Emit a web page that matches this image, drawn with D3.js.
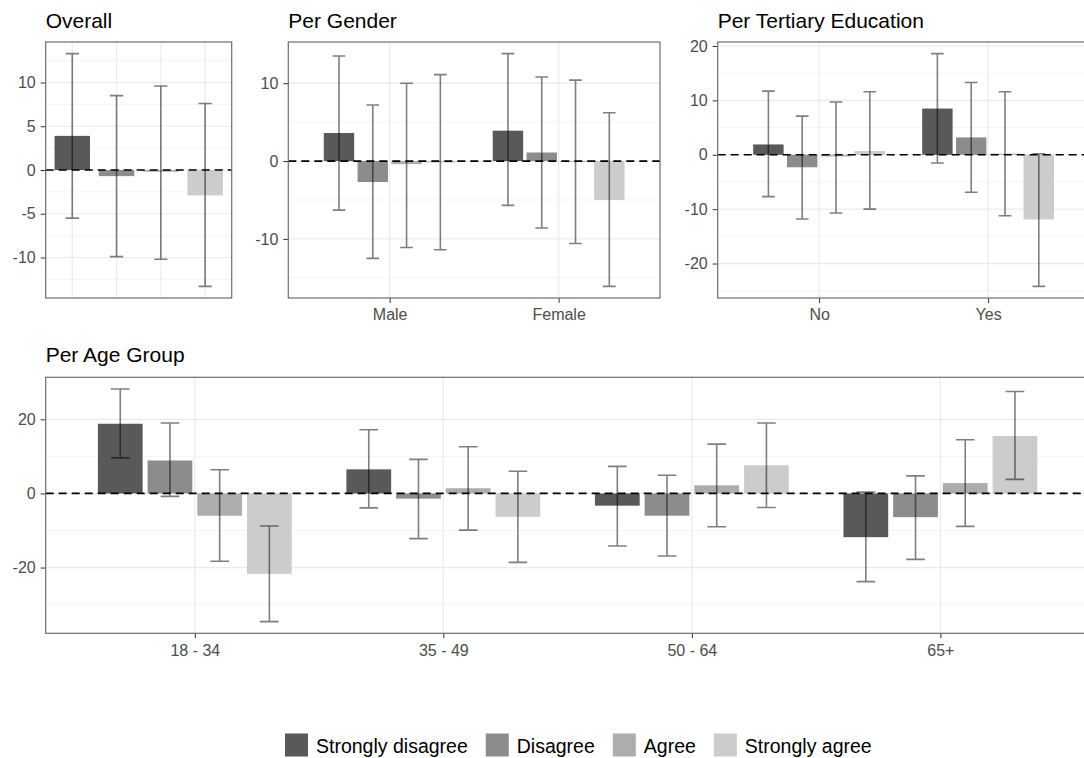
<!DOCTYPE html>
<html>
<head>
<meta charset="utf-8">
<script src="https://cdn.jsdelivr.net/npm/d3@7"></script>
<style>
  html, body { margin: 0; padding: 0; background: #fff; }
  svg { display: block; font-family: "Liberation Sans", Arial, Helvetica, sans-serif; }
</style>
</head>
<body>
<svg id="chart" width="1084" height="758"></svg>
<script>
// Response categories and their grey fills
const responses = ["Strongly disagree", "Disagree", "Agree", "Strongly agree"];
const fills = ["#595959", "#8c8c8c", "#adadad", "#cccccc"];

// Overall: estimate with 95% interval per response
const overallEst = [3.9, -0.7, -0.2, -2.9];
const overallLo  = [-5.5, -9.9, -10.2, -13.3];
const overallHi  = [13.3, 8.5, 9.6, 7.6];
const overallTicks = [-10, -5, 0, 5, 10];

// Per gender (rows follow genderGroups, columns follow responses)
const genderGroups = ["Male", "Female"];
const genderEst = [[3.6, -2.7, -0.4, -0.2], [3.9, 1.1, -0.1, -5.0]];
const genderLo  = [[-6.3, -12.5, -11.1, -11.4], [-5.7, -8.6, -10.6, -16.1]];
const genderHi  = [[13.5, 7.2, 10.0, 11.1], [13.8, 10.8, 10.4, 6.2]];
const genderTicks = [-10, 0, 10];

// Per tertiary education
const eduGroups = ["No", "Yes"];
const eduEst = [[1.9, -2.3, -0.3, 0.7], [8.5, 3.2, 0.2, -11.9]];
const eduLo  = [[-7.7, -11.8, -10.7, -10.0], [-1.5, -6.9, -11.2, -24.2]];
const eduHi  = [[11.7, 7.1, 9.7, 11.6], [18.6, 13.3, 11.6, 0.2]];
const eduTicks = [-20, -10, 0, 10, 20];

// Per age group
const ageGroups = ["18 - 34", "35 - 49", "50 - 64", "65+"];
const ageEst = [[18.8, 8.9, -6.0, -21.7], [6.5, -1.4, 1.4, -6.3], [-3.3, -6.0, 2.2, 7.6], [-11.8, -6.4, 2.8, 15.5]];
const ageLo  = [[9.6, -0.8, -18.3, -34.6], [-3.9, -12.2, -9.9, -18.6], [-14.2, -16.9, -9.0, -3.8], [-23.8, -17.8, -8.9, 3.8]];
const ageHi  = [[28.2, 19.0, 6.4, -8.8], [17.2, 9.2, 12.6, 6.0], [7.3, 4.9, 13.3, 19.0], [0.35, 4.75, 14.5, 27.5]];
const ageTicks = [-20, 0, 20];

const svg = d3.select("#chart");
const fill = d3.scaleOrdinal().domain(responses).range(fills);

const AXIS_COL = "#4d4d4d";
const GRID_MAJOR = "#ebebeb";
const GRID_MINOR = "#f3f3f3";
const AXIS_FONT = "16px";

function drawPanel(cfg) {
  const g = svg.append("g");
  const { left, right, top, bottom } = cfg;

  // Discrete x positions with ggplot-like 0.6 expansion
  const x = d3.scalePoint().domain(cfg.groups).range([left, right]).padding(0.6);
  const step = x.step();

  // Build the mark rows
  let rows = [];
  if (cfg.single) {
    cfg.groups.forEach((grp, i) => {
      rows.push({ cx: x(grp), w: step * 0.8, cap: step * 0.3, resp: responses[i],
                  v: cfg.est[i], lo: cfg.lo[i], hi: cfg.hi[i] });
    });
  } else {
    const inner = d3.scaleBand().domain(responses).range([-0.4 * step, 0.4 * step]);
    cfg.groups.forEach((grp, i) => {
      responses.forEach((r, j) => {
        rows.push({ cx: x(grp) + inner(r) + inner.bandwidth() / 2, w: inner.bandwidth() * 0.9,
                    cap: step * 0.3 / responses.length, resp: r,
                    v: cfg.est[i][j], lo: cfg.lo[i][j], hi: cfg.hi[i][j] });
      });
    });
  }

  // y scale: data extent with 5% expansion
  const vals = rows.flatMap(d => [d.v, d.lo, d.hi]).concat([0]);
  const [mn, mx] = d3.extent(vals);
  const pad = (mx - mn) * 0.05;
  const y = d3.scaleLinear().domain([mn - pad, mx + pad]).range([bottom, top]);
  const [d0, d1] = y.domain();

  const majors = cfg.ticks;
  const ms = majors[1] - majors[0];
  const minors = d3.range(majors[0] - ms / 2, majors[majors.length - 1] + ms, ms)
    .filter(v => v >= d0 && v <= d1);

  // grid
  g.append("g").selectAll("line").data(minors).join("line")
    .attr("x1", left).attr("x2", right).attr("y1", d => y(d)).attr("y2", d => y(d))
    .attr("stroke", GRID_MINOR).attr("stroke-width", 0.8);
  g.append("g").selectAll("line").data(majors).join("line")
    .attr("x1", left).attr("x2", right).attr("y1", d => y(d)).attr("y2", d => y(d))
    .attr("stroke", GRID_MAJOR).attr("stroke-width", 1.2);
  g.append("g").selectAll("line").data(cfg.groups).join("line")
    .attr("x1", d => x(d)).attr("x2", d => x(d)).attr("y1", top).attr("y2", bottom)
    .attr("stroke", GRID_MAJOR).attr("stroke-width", 1.2);

  // bars
  g.append("g").selectAll("rect").data(rows).join("rect")
    .attr("x", d => d.cx - d.w / 2).attr("width", d => d.w)
    .attr("y", d => y(Math.max(0, d.v))).attr("height", d => Math.abs(y(d.v) - y(0)))
    .attr("fill", d => fill(d.resp));

  // reference line at zero
  g.append("line")
    .attr("x1", left).attr("x2", right).attr("y1", y(0)).attr("y2", y(0))
    .attr("stroke", "#000").attr("stroke-width", 1.7).attr("stroke-dasharray", "8,5");

  // error bars
  const eb = g.append("g").attr("stroke", "#000").attr("stroke-opacity", 0.5)
    .attr("stroke-width", 1.6).attr("fill", "none");
  eb.selectAll("path").data(rows).join("path")
    .attr("d", d => {
      const a = d.cx - d.cap / 2, b = d.cx + d.cap / 2;
      return `M${a},${y(d.hi)}H${b}M${d.cx},${y(d.hi)}V${y(d.lo)}M${a},${y(d.lo)}H${b}`;
    });

  // y axis (plain hyphen for negatives)
  const ya = g.append("g").attr("transform", `translate(${left},0)`)
    .call(d3.axisLeft(y).tickValues(majors).tickSize(5).tickPadding(5).tickFormat(d => String(d)));
  ya.select(".domain").remove();
  ya.selectAll(".tick line").attr("stroke", "#333");
  ya.selectAll(".tick text").attr("fill", AXIS_COL).style("font-size", AXIS_FONT)
    .style("font-family", "'Liberation Sans', Arial, sans-serif");

  // x axis
  if (cfg.showX) {
    const xa = g.append("g").attr("transform", `translate(0,${bottom})`)
      .call(d3.axisBottom(x).tickSize(5).tickPadding(6));
    xa.select(".domain").remove();
    xa.selectAll(".tick line").attr("stroke", "#333");
    xa.selectAll(".tick text").attr("fill", AXIS_COL).style("font-size", AXIS_FONT)
      .style("font-family", "'Liberation Sans', Arial, sans-serif");
  }

  // border
  g.append("rect").attr("x", left).attr("y", top).attr("width", right - left).attr("height", bottom - top)
    .attr("fill", "none").attr("stroke", "#6e6e6e").attr("stroke-width", 1.2);

  // title
  g.append("text").attr("x", left).attr("y", cfg.titleY).text(cfg.title)
    .attr("fill", "#000").style("font-size", "21px");
}

drawPanel({ title: "Overall", left: 45.7, right: 231.7, top: 42, bottom: 298, titleY: 27.5,
  groups: responses, single: true, est: overallEst, lo: overallLo, hi: overallHi,
  ticks: overallTicks, showX: false });

drawPanel({ title: "Per Gender", left: 288.3, right: 660, top: 42, bottom: 298, titleY: 27.5,
  groups: genderGroups, est: genderEst, lo: genderLo, hi: genderHi,
  ticks: genderTicks, showX: true });

drawPanel({ title: "Per Tertiary Education", left: 717.7, right: 1089.5, top: 42, bottom: 298, titleY: 27.5,
  groups: eduGroups, est: eduEst, lo: eduLo, hi: eduHi,
  ticks: eduTicks, showX: true });

drawPanel({ title: "Per Age Group", left: 45.7, right: 1089.5, top: 377.3, bottom: 633.3, titleY: 362,
  groups: ageGroups, est: ageEst, lo: ageLo, hi: ageHi,
  ticks: ageTicks, showX: true });

// legend
const lg = svg.append("g");
let lx = 285;
responses.forEach((r, i) => {
  lg.append("rect").attr("x", lx).attr("y", 733.5).attr("width", 23).attr("height", 23).attr("fill", fill(r));
  const t = lg.append("text").attr("x", lx + 31).attr("y", 752.5).text(r)
    .attr("fill", "#000").style("font-size", "19.5px");
  lx += 31 + t.node().getComputedTextLength() + 18;
});
</script>
</body>
</html>
